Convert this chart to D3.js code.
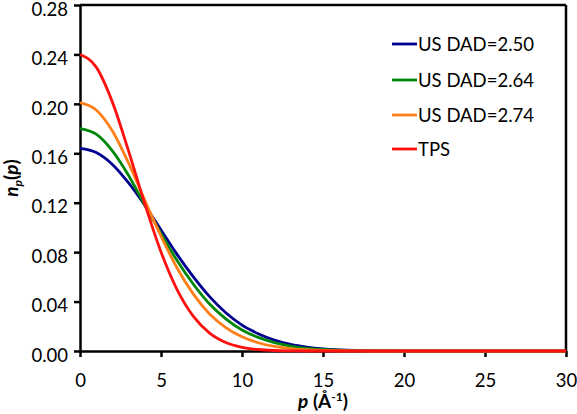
<!DOCTYPE html>
<html><head><meta charset="utf-8">
<script src="https://cdn.jsdelivr.net/npm/d3@7"></script>
<style>body{margin:0;background:#fff;} svg{display:block;} text{font-family:Lato,"Open Sans",sans-serif;}</style>
</head><body>
<script>
const pValues = [0,1,2,3,4,5,6,7,8,9,10,11,12,13,14,15,16,17,18,20,30];
const usDad250 = [0.164,0.1606,0.151,0.136,0.118,0.098,0.078,0.060,0.044,0.031,0.021,0.014,0.0088,0.0053,0.0031,0.0017,0.0009,0.0004,0.0002,0,0];
const usDad264 = [0.180,0.1755,0.162,0.142,0.118,0.095,0.073,0.054,0.038,0.026,0.017,0.011,0.0068,0.004,0.0022,0.0012,0.0006,0.0003,0.0001,0,0];
const usDad274 = [0.201,0.195,0.178,0.152,0.122,0.093,0.067,0.046,0.030,0.019,0.0115,0.0067,0.0037,0.002,0.001,0.0005,0.0002,0.0001,0,0,0];
const tps      = [0.240,0.2297,0.2014,0.1617,0.119,0.0802,0.0495,0.028,0.0145,0.0069,0.003,0.0012,0.0004,0.0001,0,0,0,0,0,0,0];
const seriesNames = ["US DAD=2.50","US DAD=2.64","US DAD=2.74","TPS"];
const seriesColors = ["#00008f","#00870a","#ff7f1a","#ff1010"];
const xTicks = [0,5,10,15,20,25,30];
const yTicks = [0,0.04,0.08,0.12,0.16,0.20,0.24,0.28];

const W=577,H=414;
const svg=d3.select("body").append("svg").attr("width",W).attr("height",H);
const x=d3.scaleLinear().domain([0,30]).range([80,566]);
const y=d3.scaleLinear().domain([0,0.28]).range([351,5]);

// frame top/right
svg.append("line").attr("x1",x(0)).attr("x2",x(30)).attr("y1",y(0.28)).attr("y2",y(0.28)).attr("stroke","#000").attr("stroke-width",2.5);
svg.append("line").attr("x1",x(30)).attr("x2",x(30)).attr("y1",y(0.28)).attr("y2",y(0)).attr("stroke","#000").attr("stroke-width",2.5);

const xAxis=svg.append("g").attr("transform",`translate(0,${y(0)})`)
  .call(d3.axisBottom(x).tickValues(xTicks).tickSize(6).tickSizeOuter(0).tickFormat(d3.format("d")));
const yAxis=svg.append("g").attr("transform",`translate(${x(0)},0)`)
  .call(d3.axisLeft(y).tickValues(yTicks).tickSize(6).tickSizeOuter(0).tickFormat(d3.format(".2f")));
[xAxis,yAxis].forEach(g=>{
  g.select(".domain").attr("stroke","#000").attr("stroke-width",2.5);
  g.selectAll(".tick line").attr("stroke","#000").attr("stroke-width",2.5);
  g.selectAll(".tick text").attr("fill","#000").style("font-size","18.5px").style("font-family","Lato, 'Open Sans', sans-serif");
});
xAxis.selectAll(".tick text").attr("dy","0").attr("y",36);
yAxis.selectAll(".tick text").attr("x",-12).attr("dy","0.55em");

const allSeries=[usDad250,usDad264,usDad274,tps];
const line=d3.line().x((d,i)=>x(pValues[i])).y(d=>y(d)).curve(d3.curveMonotoneX);
allSeries.forEach((s,k)=>{
  svg.append("path").datum(s).attr("d",line).attr("fill","none").attr("stroke",seriesColors[k]).attr("stroke-width",2.8);
});

// legend
const legY=[44,80,115,149];
seriesNames.forEach((n,k)=>{
  svg.append("line").attr("x1",392).attr("x2",417).attr("y1",legY[k]).attr("y2",legY[k]).attr("stroke",seriesColors[k]).attr("stroke-width",2.8);
  svg.append("text").attr("x",418).attr("y",legY[k]).attr("dy","0.36em").style("font-size","18.5px").attr("fill","#000").text(n);
});

// x axis title
const xt=svg.append("text").attr("x",323).attr("y",408).attr("text-anchor","middle").style("font-size","19px").style("font-weight","bold").attr("fill","#000");
xt.append("tspan").style("font-style","italic").text("p");
xt.append("tspan").text(" (Å");
xt.append("tspan").attr("dy",-7).style("font-size","12px").text("-1");
xt.append("tspan").attr("dy",7).text(")");

// y axis title
const yt=svg.append("text").attr("transform","translate(18,178) rotate(-90)").attr("text-anchor","middle").style("font-size","19px").style("font-weight","bold").attr("fill","#000");
yt.append("tspan").style("font-style","italic").text("n");
yt.append("tspan").attr("dy",4).style("font-size","12px").style("font-style","italic").text("p");
yt.append("tspan").attr("dy",-4).text("(");
yt.append("tspan").style("font-style","italic").text("p");
yt.append("tspan").text(")");
</script>
</body></html>
